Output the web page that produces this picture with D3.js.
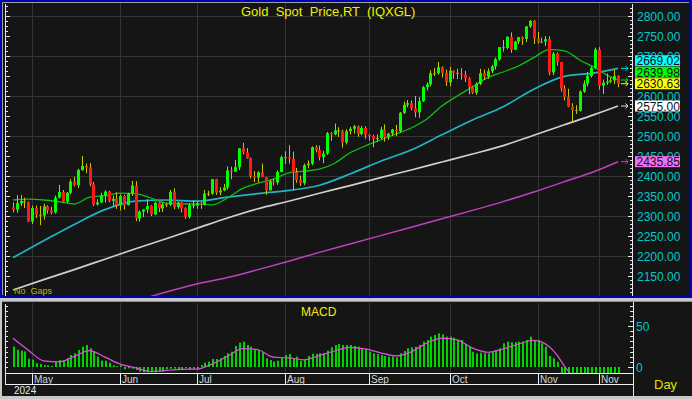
<!DOCTYPE html>
<html>
<head>
<meta charset="utf-8">
<script src="https://cdn.jsdelivr.net/npm/d3@7"></script>
<style>
  body { margin: 0; background: #c8c8c8; }
  svg { display: block; font-family: Arial, "Liberation Sans", sans-serif; }
  text { white-space: pre; }
</style>
</head>
<body>
<script>
// daily OHLC, Apr 24 2024 .. Dec 2 2024 (weekdays)
var opens = [2322,2316,2332,2337,2335,2286,2320,2303,2301,2324,
  2314,2309,2346,2360,2336,2358,2386,2377,2415,2425,
  2421,2379,2329,2334,2351,2361,2338,2343,2327,2350,
  2327,2355,2376,2294,2311,2316,2325,2304,2333,2319,
  2329,2328,2360,2322,2334,2319,2298,2327,2326,2332,
  2329,2356,2356,2392,2359,2364,2371,2414,2411,2422,
  2469,2459,2445,2400,2396,2409,2397,2364,2387,2384,
  2410,2447,2446,2443,2409,2390,2382,2427,2431,2472,
  2465,2447,2456,2507,2504,2514,2512,2484,2512,2518,
  2524,2505,2520,2503,2500,2493,2495,2516,2497,2506,
  2516,2512,2558,2578,2582,2569,2559,2587,2622,2629,
  2657,2657,2672,2658,2634,2663,2658,2656,2653,2644,
  2622,2608,2630,2657,2649,2662,2674,2692,2722,2720,
  2748,2716,2736,2747,2743,2774,2788,2743,2736,2736,
  2742,2659,2706,2685,2619,2598,2573,2565,2563,2611,
  2631,2650,2670,2716,2626,2633,2636,2639,2650];
var highs = [2334,2352,2353,2346,2336,2326,2326,2325,2331,2327,
  2323,2351,2378,2365,2360,2392,2398,2418,2450,2431,
  2432,2385,2342,2358,2364,2363,2351,2359,2354,2353,
  2358,2388,2387,2314,2317,2342,2327,2336,2334,2334,
  2332,2365,2369,2335,2336,2322,2332,2339,2336,2335,
  2365,2363,2392,2393,2372,2380,2424,2423,2440,2470,
  2483,2470,2446,2412,2412,2431,2398,2391,2393,2414,
  2451,2462,2477,2461,2420,2401,2431,2439,2474,2477,
  2476,2463,2510,2510,2531,2522,2516,2517,2523,2528,
  2526,2525,2524,2505,2503,2504,2523,2529,2508,2518,
  2528,2560,2586,2590,2589,2600,2597,2625,2634,2664,
  2670,2685,2674,2666,2673,2664,2668,2670,2663,2647,
  2625,2634,2668,2666,2669,2678,2696,2722,2740,2749,
  2759,2738,2748,2749,2775,2790,2790,2760,2746,2750,
  2749,2710,2709,2685,2627,2618,2582,2577,2614,2639,
  2660,2674,2721,2722,2641,2656,2646,2665,2652];
var lows = [2309,2308,2325,2320,2285,2280,2295,2277,2291,2306,
  2304,2306,2344,2334,2332,2354,2374,2370,2413,2407,
  2374,2325,2326,2333,2334,2334,2323,2318,2314,2316,
  2326,2350,2287,2286,2297,2307,2300,2302,2310,2310,
  2322,2325,2317,2318,2309,2293,2294,2319,2318,2318,
  2327,2350,2353,2353,2352,2362,2366,2392,2410,2415,
  2454,2443,2394,2385,2384,2397,2353,2364,2376,2378,
  2409,2430,2431,2364,2383,2375,2377,2419,2427,2459,
  2439,2432,2453,2488,2502,2498,2471,2479,2504,2506,
  2498,2502,2493,2489,2472,2485,2491,2486,2490,2500,
  2500,2508,2555,2572,2564,2547,2546,2585,2614,2624,
  2650,2653,2646,2625,2624,2643,2642,2641,2635,2604,
  2605,2603,2627,2640,2643,2657,2666,2688,2711,2717,
  2708,2715,2730,2728,2735,2770,2730,2731,2733,2725,
  2652,2652,2676,2611,2589,2572,2537,2555,2561,2608,
  2624,2646,2667,2616,2605,2628,2632,2630,2622];
var closes = [2316,2332,2337,2335,2286,2320,2303,2301,2324,2314,
  2309,2346,2360,2336,2358,2386,2377,2415,2425,2421,
  2379,2329,2334,2351,2361,2338,2343,2327,2350,2327,
  2355,2376,2294,2311,2316,2325,2304,2333,2319,2329,
  2328,2360,2322,2334,2319,2298,2327,2326,2332,2329,
  2356,2356,2392,2359,2364,2371,2414,2411,2422,2469,
  2459,2445,2400,2396,2409,2397,2364,2387,2384,2410,
  2447,2446,2443,2409,2390,2382,2427,2431,2472,2465,
  2447,2456,2507,2504,2514,2512,2484,2512,2518,2524,
  2505,2520,2503,2500,2493,2495,2516,2497,2506,2516,
  2512,2558,2578,2582,2569,2559,2587,2622,2629,2657,
  2657,2672,2658,2634,2663,2658,2656,2653,2644,2622,
  2608,2630,2657,2649,2662,2674,2692,2722,2720,2748,
  2716,2736,2747,2743,2774,2788,2743,2736,2736,2742,
  2659,2706,2685,2619,2598,2573,2565,2563,2611,2631,
  2650,2670,2716,2626,2633,2636,2639,2650,2630.63];

// moving averages at sample bars
var ma20Idx = [0,4,8,12,16,20,24,28,32,36,40,44,48,52,56,60,64,68,72,76,80,
  84,88,92,96,100,104,108,112,116,120,124,128,132,136,140,144,148,152,156,158];
var ma20 = [2340,2342,2340,2336,2330,2347,2351,2357,2356,2345,2332,2330,2330,2328,2345,2369,2382,2392,2408,2412,2417,
  2432,2458,2475,2490,2505,2520,2542,2575,2600,2623,2646,2660,2675,2696,2716,2713,2690,2671,2648,2639.98];
var maIdx = [0,8,16,24,32,40,48,56,64,72,80,88,96,104,112,120,128,136,144,152,158];
var ma50 = [2196,2238,2279,2316,2337,2340,2337,2347,2356,2364,2377,2405,2437,2465,2503,2540,2573,2617,2649,2658,2669.02];
var ma100 = [2115,2141,2166,2192,2218,2243,2269,2295,2318,2337,2357,2376,2396,2415,2435,2455,2476,2502,2528,2554,2575.00];
var ma200Idx = [36,40,48,56,64,72,80,88,96,104,112,120,128,136,144,152,158];
var ma200 = [2099,2110,2130,2146,2166,2187,2209,2230,2251,2272,2293,2314,2336,2360,2386,2412,2435.85];

// MACD panel
var macdHist = [25,21,20,19,10,9,4.5,3.7,2.4,2,
  1.2,6.5,8.5,8.5,10.6,14.6,16.7,20.7,24.8,26.8,
  22.8,18.7,12.6,7.7,7.7,5.3,2,1.2,2,-2.8,
  -1.6,-2,-3.7,-5.7,-6.5,-6.5,-6.5,-6.5,-5.7,-5.7,
  -2.8,-2,-2,-2.8,-2.8,-0.4,-2.8,-2,-2,2.4,
  5.3,6.5,9.8,9.8,10.6,13.4,16.7,18.7,25.6,29.7,
  30.9,26.8,24.8,20.7,20.7,17.9,10.6,8.5,6.5,7.7,
  11.4,14.6,15.9,10.6,12.6,7.7,8.5,13.4,15.9,15.9,
  16.7,16.7,20,24,26.8,28,26.8,26.8,26.8,25.6,
  24.8,22.8,21.5,18.7,16.7,15.9,14.6,13.4,12.6,12.6,
  11.8,16.7,19.5,22.8,24,24.8,26.8,30.9,32.9,37,
  39,41,39.8,37,37,35.8,32.9,32.9,28,24.8,
  18.7,16.7,17.5,16.7,16.7,18.7,20.7,22.8,28.9,30.9,
  30.1,30.1,30.9,30.9,32.9,37,32.9,32.9,28.9,24.8,
  13.4,10.6,6.5,-8,-12,-18,-22,-25,-24,-21,
  -17,-13,-8,-10,-10,-10,-9,-9,-9];
var sigIdx = [0,4,8,12,16,20,24,28,32,36,40,44,48,52,56,60,64,68,72,76,80,84,88,92,
  96,100,104,108,112,116,120,124,128,132,136,140,142,144,146,150,154,158];
var sigVals = [35,20.5,7.5,6.2,13,19.9,12,3.5,-1,-5.5,-4,-2.8,-2.6,3.5,13,22.5,21,12,11.2,8.8,14,19.5,24,22,
  17.3,13.5,18.5,29,35.3,33,23,18,22,28,32.5,25,15,1,-10,-18,-20,-18];

var priceTicks = [2150,2200,2250,2300,2350,2400,2450,2500,2550,2600,2650,2700,2750,2800];
var gridPrices = [2200,2300,2400,2500,2600,2700,2800];
var monthDates = ["2024-05-01","2024-06-03","2024-07-01","2024-08-01","2024-09-02","2024-10-01","2024-11-01","2024-11-25"];
var monthLabels = ["May","Jun","Jul","Aug","Sep","Oct","Nov","Nov"];

var width = 692, height = 399;

var tradeDays = d3.timeDay.range(new Date(2024, 3, 24), new Date(2024, 11, 3))
    .filter(function(d) { return d.getDay() !== 0 && d.getDay() !== 6; });
var fmt = d3.timeFormat("%Y-%m-%d");
var dayKeys = tradeDays.map(fmt);

var x = d3.scaleLinear().domain([0, closes.length - 1]).range([13, 618]);
var y = d3.scaleLinear().domain([2100, 2800]).range([296, 16]);
var ym = d3.scaleLinear().domain([0, 50]).range([367, 326]);

function px(i) { return Math.round(x(i)); }

var svg = d3.select("body").append("svg")
    .attr("width", width)
    .attr("height", height);

var defs = svg.append("defs");
defs.append("clipPath").attr("id", "clipPrice")
  .append("rect").attr("x", 6).attr("y", 3).attr("width", 625).attr("height", 293);
defs.append("clipPath").attr("id", "clipMacd")
  .append("rect").attr("x", 6).attr("y", 303).attr("width", 626).attr("height", 70);

// frames
svg.append("rect").attr("x", 0).attr("y", 0).attr("width", width).attr("height", height).attr("fill", "#c8c8c8");
svg.append("rect").attr("x", 0).attr("y", 0).attr("width", 692).attr("height", 298).attr("fill", "#151515");
svg.append("rect").attr("x", 1).attr("y", 1).attr("width", 689).attr("height", 296)
    .attr("fill", "none").attr("stroke", "#0000b4").attr("stroke-width", 2);
svg.append("path").attr("d", "M2.5,295V2.5H689").attr("fill", "none").attr("stroke", "#a0a0a0");
svg.append("rect").attr("x", 2).attr("y", 301).attr("width", 690).attr("height", 95).attr("fill", "#151515");
svg.append("line").attr("x1", 2).attr("x2", 692).attr("y1", 301.5).attr("y2", 301.5).attr("stroke", "#909090");

// grid
var monthIdx = monthDates.map(function(d) { return dayKeys.indexOf(d); });
var grid = svg.append("g").attr("stroke", "#343434").attr("stroke-width", 1);
gridPrices.forEach(function(p) {
  grid.append("line").attr("x1", 6).attr("x2", 631)
      .attr("y1", Math.round(y(p)) + 0.5).attr("y2", Math.round(y(p)) + 0.5);
});
monthIdx.forEach(function(i) {
  grid.append("line").attr("x1", px(i) + 0.5).attr("x2", px(i) + 0.5).attr("y1", 3).attr("y2", 296);
  grid.append("line").attr("x1", px(i) + 0.5).attr("x2", px(i) + 0.5).attr("y1", 303).attr("y2", 373);
});

// moving averages
function maLine(idx, vals) {
  return d3.line()
      .x(function(d, k) { return x(idx[k]); })
      .y(function(d) { return y(d); })
      .curve(d3.curveMonotoneX)(vals);
}
var gp = svg.append("g").attr("clip-path", "url(#clipPrice)").attr("fill", "none");
gp.append("path").attr("d", maLine(ma200Idx, ma200)).attr("stroke", "#c040c0").attr("stroke-width", 1.5);
gp.append("path").attr("d", maLine(maIdx, ma100)).attr("stroke", "#cfcfcf").attr("stroke-width", 1.7);
gp.append("path").attr("d", maLine(maIdx, ma50)).attr("stroke", "#20b4c4").attr("stroke-width", 1.7);
gp.append("path").attr("d", maLine(ma20Idx, ma20)).attr("stroke", "#10bf10").attr("stroke-width", 1.3);

// candles
var candles = svg.append("g").attr("clip-path", "url(#clipPrice)");
closes.forEach(function(c, i) {
  var o = opens[i], cx = px(i);
  var col = Math.abs(c - o) < 3 ? "#9c9c20" : (c > o ? "#00ff00" : "#ff1a1a");
  candles.append("line")
      .attr("x1", cx + 0.5).attr("x2", cx + 0.5)
      .attr("y1", y(highs[i])).attr("y2", y(lows[i]))
      .attr("stroke", "#c8c800").attr("stroke-width", 1);
  var top = y(Math.max(o, c)), bot = y(Math.min(o, c));
  candles.append("rect")
      .attr("x", cx - 1).attr("width", 3)
      .attr("y", top).attr("height", Math.max(1, bot - top))
      .attr("fill", col);
});

// left axis (price)
var la = svg.append("g").attr("stroke", "#e8e8e8");
la.append("line").attr("x1", 5.5).attr("x2", 5.5).attr("y1", 4).attr("y2", 296);
d3.range(2100, 2826, 12.5).forEach(function(v) {
  var yy = Math.round(y(v)) + 0.5;
  if (yy < 5 || yy > 295) return;
  la.append("line").attr("x1", 6).attr("x2", v % 50 === 0 ? 10 : 8).attr("y1", yy).attr("y2", yy);
});

// right axis (price)
var ra = svg.append("g").attr("stroke", "#e8e8e8");
ra.append("line").attr("x1", 632.5).attr("x2", 632.5).attr("y1", 4).attr("y2", 296);
d3.range(2100, 2831, 10).forEach(function(v) {
  var yy = Math.round(y(v)) + 0.5;
  if (yy < 5 || yy > 295) return;
  ra.append("line").attr("x1", v % 50 === 0 ? 628 : 630).attr("x2", 632).attr("y1", yy).attr("y2", yy);
});
svg.append("g").selectAll("text").data(priceTicks).enter().append("text")
    .attr("x", 637).attr("y", function(d) { return y(d) + 4.5; })
    .attr("font-size", 12).attr("fill", "#00c8c8")
    .text(function(d) { return d3.format(".2f")(d); });

// last value boxes
var boxes = [
  { v: ma200[ma200.length - 1], fill: "#f070f0" },
  { v: ma100[ma100.length - 1], fill: "#ffffff" },
  { v: closes[closes.length - 1], fill: "#ffff00" },
  { v: ma20[ma20.length - 1], fill: "#00ff00" },
  { v: ma50[ma50.length - 1], fill: "#00ffff" }
];
var arrowCols = ["#c040c0", "#e0e0e0", "#ffff00", "#00e000", "#00e0e0"];
var prevTop = 1000;
boxes.forEach(function(b, k) {
  var c = y(b.v);
  var bottom = Math.min(c + 5.5, prevTop - 0.5);
  b.top = bottom - 11;
  prevTop = b.top;
  svg.append("path")
      .attr("d", "M621," + c + "h7m-2.5,-2.5l2.5,2.5l-2.5,2.5")
      .attr("fill", "none").attr("stroke", arrowCols[k]).attr("stroke-width", 1);
});
boxes.slice().reverse().forEach(function(b) {
  svg.append("rect").attr("x", 635).attr("y", b.top).attr("width", 45).attr("height", 11).attr("fill", b.fill);
  svg.append("text").attr("x", 636.5).attr("y", b.top + 10).attr("font-size", 12).attr("fill", "#101020")
      .text(d3.format(".2f")(b.v));
});

// titles
svg.append("text").attr("x", 241).attr("y", 16).attr("font-size", 13).attr("fill", "#f0f000")
    .text("Gold  Spot  Price,RT  (IQXGL)");
svg.append("text").attr("x", 14).attr("y", 294).attr("font-size", 9).attr("fill", "#b8b800")
    .text("No  Gaps");

// MACD
var gm = svg.append("g").attr("clip-path", "url(#clipMacd)");
macdHist.forEach(function(v, i) {
  var y0 = ym(0), y1 = ym(v);
  gm.append("rect").attr("x", px(i)).attr("width", 2)
      .attr("y", Math.min(y0, y1)).attr("height", Math.max(1, Math.abs(y1 - y0)))
      .attr("fill", "#00d400");
});
gm.append("path")
    .attr("d", d3.line().x(function(d, k) { return x(sigIdx[k]); }).y(function(d) { return ym(d); })
      .curve(d3.curveMonotoneX)(sigVals))
    .attr("fill", "none").attr("stroke", "#e050e0").attr("stroke-width", 1.2);

svg.append("text").attr("x", 301).attr("y", 316).attr("font-size", 12).attr("fill", "#f0f000").text("MACD");

var ma = svg.append("g").attr("stroke", "#e8e8e8");
ma.append("line").attr("x1", 5.5).attr("x2", 5.5).attr("y1", 304).attr("y2", 384);
ma.append("line").attr("x1", 633.5).attr("x2", 633.5).attr("y1", 302).attr("y2", 396);
d3.range(-6.25, 80, 6.25).forEach(function(v) {
  var yy = Math.round(ym(v)) + 0.5;
  if (yy < 304 || yy > 372) return;
  ma.append("line").attr("x1", 6).attr("x2", 8).attr("y1", yy).attr("y2", yy);
  ma.append("line").attr("x1", (v === 0 || v === 50) ? 628 : 630).attr("x2", 633).attr("y1", yy).attr("y2", yy);
});
svg.append("text").attr("x", 636).attr("y", ym(50) + 4.5).attr("font-size", 12).attr("fill", "#00c8c8").text("50");
svg.append("text").attr("x", 636).attr("y", ym(0) + 4.5).attr("font-size", 12).attr("fill", "#00c8c8").text("0");

// date axis
var da = svg.append("g").attr("stroke", "#f0f0f0");
da.append("line").attr("x1", 5).attr("x2", 633).attr("y1", 373.5).attr("y2", 373.5);
da.append("line").attr("x1", 5).attr("x2", 633).attr("y1", 384.5).attr("y2", 384.5);
monthIdx.forEach(function(i) {
  da.append("line").attr("x1", px(i) + 0.5).attr("x2", px(i) + 0.5).attr("y1", 373).attr("y2", 384);
});
svg.append("g").selectAll("text").data(monthIdx).enter().append("text")
    .attr("x", function(i) { return px(i) + 2; }).attr("y", 383)
    .attr("font-size", 10).attr("fill", "#d8d8d8")
    .text(function(d, k) { return monthLabels[k]; });
svg.append("text").attr("x", 14).attr("y", 394).attr("font-size", 10).attr("fill", "#e8e8e8").text("2024");
svg.append("text").attr("x", 654).attr("y", 389).attr("font-size", 13).attr("fill", "#e0e000").text("Day");
</script>
</body>
</html>
